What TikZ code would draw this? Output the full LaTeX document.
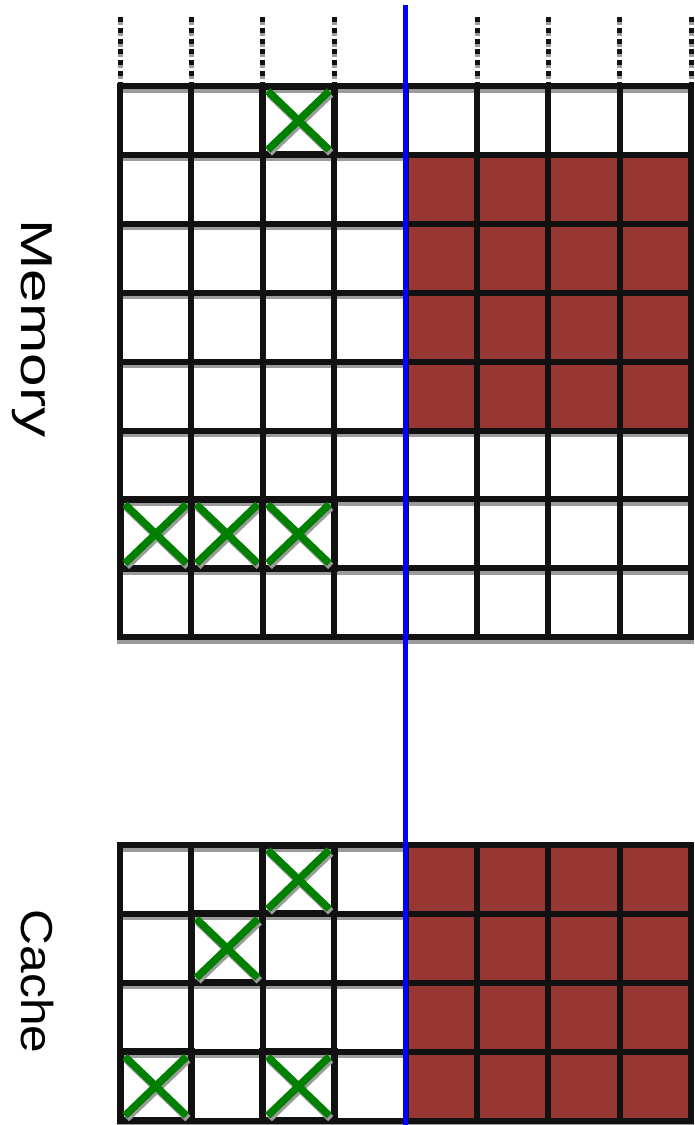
\documentclass[tikz,border=0pt]{standalone}
\usepackage{fontspec}
\setmainfont{Liberation Sans}
\definecolor{brick}{RGB}{150,55,52}
\definecolor{xgreen}{RGB}{0,128,0}
\definecolor{gridblack}{RGB}{17,17,17}
\definecolor{shadowgray}{RGB}{155,155,155}
\newcommand\crosscell[2]{%
  \draw[cellborder] (#1,#2) rectangle ({#1+71.4},{#2+68.9});
  \draw[xshadow] ({#1+5},{#2+5}) -- ({#1+66.4},{#2+63.9});
  \draw[xshadow] ({#1+66.4},{#2+5}) -- ({#1+5},{#2+63.9});
  \draw[xline] ({#1+5},{#2+5}) -- ({#1+66.4},{#2+63.9});
  \draw[xline] ({#1+66.4},{#2+5}) -- ({#1+5},{#2+63.9});
}
\begin{document}
\begin{tikzpicture}[x=1pt,y=-1pt,
  gridline/.style={line width=6pt, draw=gridblack, line cap=rect},
  gridshadow/.style={line width=6pt, draw=shadowgray, line cap=rect, yshift=-3.5pt},
  dotline/.style={line width=5pt, draw=gridblack, dash pattern=on 5pt off 5.8pt},
  dotshadow/.style={line width=5pt, draw=shadowgray, dash pattern=on 5pt off 5.8pt, yshift=-3pt},
  cellborder/.style={line width=7pt, draw=gridblack, line cap=rect},
  xline/.style={line width=7.5pt, draw=xgreen},
  xshadow/.style={line width=7.5pt, draw=shadowgray, yshift=-3pt, xshift=1.5pt},
  divider/.style={line width=5.5pt, draw=blue},
  lab/.style={font=\fontsize{44.7}{50}\selectfont, inner sep=0pt, anchor=base, rotate=-90}]
\useasboundingbox (0,0) rectangle (695,1125);
% dotted continuation lines
\foreach \i in {0,1,2,3,5,6,7,8} {
  \draw[dotshadow] ({120+71.4*\i},17) -- ({120+71.4*\i},84);
  \draw[dotline] ({120+71.4*\i},17) -- ({120+71.4*\i},84);
}
% memory grid shadows
\foreach \i in {0,...,8} {
  \draw[gridshadow] ({120+71.4*\i},86) -- ({120+71.4*\i},637.2);
}
\foreach \j in {0,...,8} {
  \draw[gridshadow] (120,{86+68.9*\j}) -- (691.2,{86+68.9*\j});
}
% cache grid shadows
\foreach \i in {0,...,8} {
  \draw[gridshadow] ({120+71.4*\i},845) -- ({120+71.4*\i},1120.6);
}
\foreach \j in {0,...,4} {
  \draw[gridshadow] (120,{845+68.9*\j}) -- (691.2,{845+68.9*\j});
}
% red blocks
\fill[brick] (405.6,154.9) rectangle (691.2,430.5);
\fill[brick] (405.6,845) rectangle (691.2,1120.6);
% memory grid
\foreach \i in {0,...,8} {
  \draw[gridline] ({120+71.4*\i},86) -- ({120+71.4*\i},637.2);
}
\foreach \j in {0,...,8} {
  \draw[gridline] (120,{86+68.9*\j}) -- (691.2,{86+68.9*\j});
}
% cache grid
\foreach \i in {0,...,8} {
  \draw[gridline] ({120+71.4*\i},845) -- ({120+71.4*\i},1120.6);
}
\foreach \j in {0,...,4} {
  \draw[gridline] (120,{845+68.9*\j}) -- (691.2,{845+68.9*\j});
}
% crossed cells, memory
\crosscell{262.8}{86}
\crosscell{120}{499.4}
\crosscell{191.4}{499.4}
\crosscell{262.8}{499.4}
% crossed cells, cache
\crosscell{262.8}{845}
\crosscell{191.4}{913.9}
\crosscell{120}{1051.7}
\crosscell{262.8}{1051.7}
% divider
\coordinate (divtop) at (405.6,5);
\coordinate (divbot) at (405.6,1125);
\draw[divider] (divtop) -- (divbot);
% labels
\node[lab] (memlabel) at (21,328.5) {\scalebox{1.35}[1]{Memory}};
\node[lab] (cachelabel) at (21,981.5) {\scalebox{1.11}[1]{Cache}};
\end{tikzpicture}
\end{document}
